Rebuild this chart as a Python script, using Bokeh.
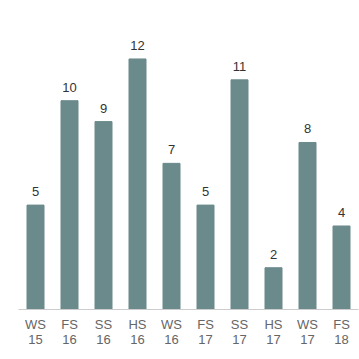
from bokeh.plotting import figure
from bokeh.models import ColumnDataSource, Range1d, LabelSet
from bokeh.core.properties import value
from bokeh.embed import file_html
from bokeh.resources import INLINE

categories = ["WS\n15", "FS\n16", "SS\n16", "HS\n16", "WS\n16", "FS\n17", "SS\n17", "HS\n17", "WS\n17", "FS\n18"]
values = [5, 10, 9, 12, 7, 5, 11, 2, 8, 4]
labels = [str(v) for v in values]

src = ColumnDataSource(dict(x=categories, top=values, label=labels))

p = figure(x_range=categories, y_range=Range1d(0, 14.8), width=359, height=359,
           output_backend="svg", toolbar_location=None,
           min_border_left=18, min_border_right=1, min_border_top=0, min_border_bottom=50)
p.vbar(x="x", top="top", width=0.5, source=src, color="#6b8a8b")
p.add_layout(LabelSet(x="x", y="top", text="label", source=src, text_align="center",
                      text_baseline="bottom", y_offset=9, text_font=value("Liberation Sans"),
                      text_font_size="13px", text_color="#333333"))
p.yaxis.visible = False
p.xgrid.visible = False
p.ygrid.visible = False
p.outline_line_color = None
p.x_range.range_padding = 0
p.xaxis.axis_line_color = "#cccccc"
p.xaxis.major_tick_line_color = None
p.xaxis.minor_tick_line_color = None
p.xaxis.major_label_text_font = "Liberation Sans"
p.xaxis.major_label_text_font_size = "13px"
p.xaxis.major_label_text_color = "#666666"
p.xaxis.major_label_standoff = 1
p.xaxis.major_label_text_line_height = 1.0

open("out.html", "w").write(file_html(p, INLINE))
